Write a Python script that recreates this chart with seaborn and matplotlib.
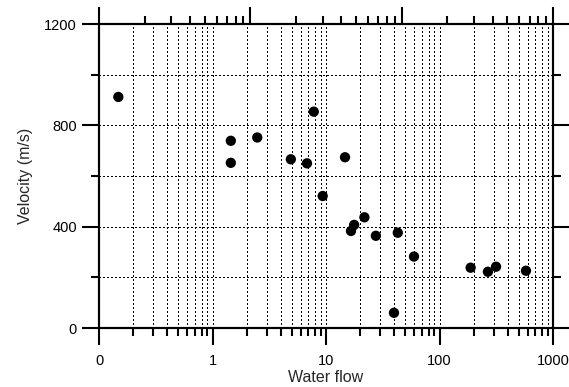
import pandas as pd
import matplotlib
matplotlib.use("Agg")
import matplotlib.pyplot as plt
import matplotlib.ticker as mticker
import seaborn as sns

# ===============================
# Data
# ===============================
water_flow = [0.148, 1.45, 1.45, 2.48, 4.9, 6.8, 7.8, 9.35, 14.7,
              16.6, 17.7, 21.8, 27.5, 39.7, 42.9, 59.6, 188, 267, 315, 578]
velocity = [912, 739, 652, 752, 666, 650, 854, 521, 674,
            383, 407, 437, 364, 60, 376, 282, 238, 222, 242, 226]

x_ticks = [0.1, 1, 10, 100, 1000]
x_tick_labels = ["0", "1", "10", "100", "1000"]
y_ticks = [0, 400, 800, 1200]

df = pd.DataFrame({"Water flow": water_flow, "Velocity (m/s)": velocity})

# ===============================
# Style
# ===============================
sns.set_style("ticks")
plt.rcParams["font.family"] = ["Liberation Sans", "DejaVu Sans"]

fig = plt.figure(figsize=(5.69, 3.87), dpi=100)
ax = fig.add_axes([99 / 569, 59 / 387, 454 / 569, 304 / 387])

sns.scatterplot(data=df, x="Water flow", y="Velocity (m/s)", ax=ax,
                color="black", s=55, edgecolor="none", zorder=3)

ax.set_xscale("log")
ax.set_xlim(0.1, 1000)
ax.set_ylim(0, 1200)
ax.xaxis.set_major_locator(mticker.FixedLocator(x_ticks))
ax.xaxis.set_major_formatter(mticker.FixedFormatter(x_tick_labels))
ax.xaxis.set_minor_locator(mticker.LogLocator(base=10, subs=range(2, 10)))
ax.xaxis.set_minor_formatter(mticker.NullFormatter())
ax.yaxis.set_major_locator(mticker.FixedLocator(y_ticks))
ax.yaxis.set_minor_locator(mticker.MultipleLocator(200))

# crisp dotted grid at every major/minor position
ax.grid(which="both", color="black", linestyle=(0, (1.4, 2.8)),
        linewidth=0.75, antialiased=False)
ax.set_axisbelow(True)

ax.tick_params(which="both", direction="out", width=1.5, colors="black",
               labelsize=10.5, top=False, right=True, labelright=False)
ax.tick_params(which="major", length=12, pad=4)
ax.tick_params(which="minor", length=6)
ax.tick_params(axis="x", which="major", pad=7)

for sp in ax.spines.values():
    sp.set_visible(True)
    sp.set_linewidth(1.5)
    sp.set_color("black")

ax.set_xlabel("Water flow", fontsize=11.5, labelpad=1)
ax.set_ylabel("Velocity (m/s)", fontsize=11.5, labelpad=8)

# ===============================
# Unlabelled top log axis (3 decades)
# ===============================
ax2 = ax.twiny()
ax2.set_xscale("log")
ax2.set_xlim(1, 1000)
ax2.xaxis.set_major_formatter(mticker.NullFormatter())
ax2.xaxis.set_minor_formatter(mticker.NullFormatter())
ax2.tick_params(which="both", direction="out", width=1.5, colors="black",
                top=True, bottom=False, labeltop=False)
ax2.tick_params(which="major", length=12)
ax2.tick_params(which="minor", length=6)
for sp in ax2.spines.values():
    sp.set_linewidth(1.5)
    sp.set_color("black")

fig.savefig("out.png", dpi=100)
